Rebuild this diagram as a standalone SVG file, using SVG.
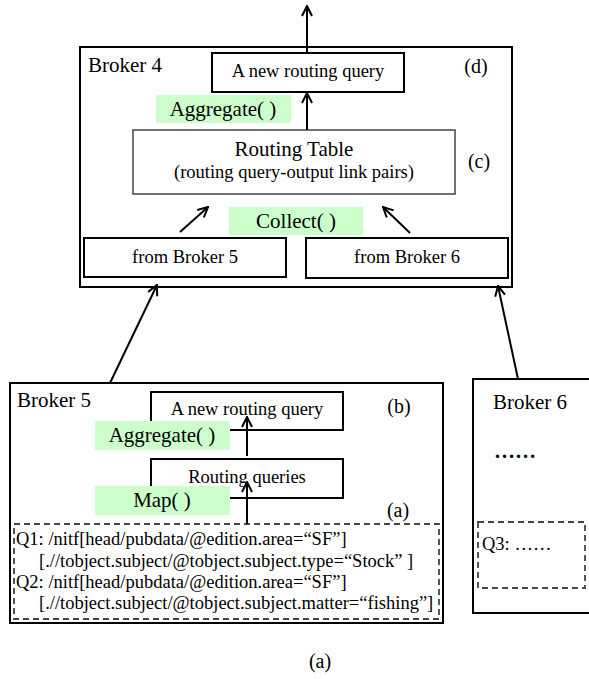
<svg xmlns="http://www.w3.org/2000/svg" width="589" height="679" viewBox="0 0 589 679">
<style>
text{font-family:"Liberation Serif","Times New Roman",serif;fill:#000}
.box{fill:#fff;stroke:#000;stroke-width:2}
.thin{fill:#fff;stroke:#444;stroke-width:1.5}
.dash{fill:none;stroke:#444;stroke-width:1.8;stroke-dasharray:6 4}
.green{fill:#ccffcc;stroke:none}
.big{font-size:21px}
.mid{font-size:18.5px}
.lab{font-size:20px}
.c{text-anchor:middle}
.conn{stroke:#000;stroke-width:2;fill:none;marker-end:url(#ah)}
</style>
<defs>
<marker id="ah" viewBox="0 0 12 12" refX="11" refY="6" markerWidth="12" markerHeight="12" markerUnits="userSpaceOnUse" orient="auto">
<path d="M1,1 L11,6 L1,11" fill="none" stroke="#000" stroke-width="2"/>
</marker>
</defs>
<rect width="589" height="679" fill="#fff"/>

<g id="broker4">
<rect class="box" x="80" y="47" width="432" height="240"/>
<text class="big" x="88" y="72">Broker 4</text>
<text class="lab c" x="476" y="73">(d)</text>
<text class="lab c" x="479" y="168">(c)</text>
</g>
<g id="newquery4">
<rect class="box" x="212" y="53" width="192" height="39"/>
<text class="mid c" x="308" y="77">A new routing query</text>
</g>
<g id="aggregate4">
<rect class="green" x="156" y="95" width="135" height="28"/>
<text class="big c" x="223" y="116">Aggregate( )</text>
</g>
<g id="routingtable">
<rect class="thin" x="133" y="130" width="322" height="64"/>
<text class="big c" x="294" y="156">Routing Table</text>
<text class="mid c" x="294" y="178">(routing query-output link pairs)</text>
</g>
<g id="collect">
<rect class="green" x="229" y="207" width="134" height="28"/>
<text class="big c" x="296" y="228">Collect( )</text>
</g>
<g id="from5">
<rect class="box" x="84" y="238" width="202" height="39"/>
<text class="mid c" x="185" y="263">from Broker 5</text>
</g>
<g id="from6">
<rect class="box" x="306" y="238" width="202" height="40"/>
<text class="mid c" x="407" y="263">from Broker 6</text>
</g>

<g id="broker5">
<rect class="box" x="10" y="383" width="433" height="240"/>
<text class="big" x="17" y="407">Broker 5</text>
<text class="lab c" x="399" y="413">(b)</text>
<text class="lab c" x="398" y="517">(a)</text>
</g>
<g id="newquery5">
<rect class="box" x="151" y="392" width="192" height="38"/>
<text class="mid c" x="247" y="415">A new routing query</text>
</g>
<g id="aggregate5">
<rect class="green" x="95" y="421" width="135" height="29"/>
<text class="big c" x="162" y="442">Aggregate( )</text>
</g>
<g id="routingqueries">
<rect class="box" x="151" y="459" width="192" height="39"/>
<text class="mid c" x="247" y="483">Routing queries</text>
</g>
<g id="map">
<rect class="green" x="95" y="486" width="135" height="29"/>
<text class="big c" x="162" y="507">Map( )</text>
</g>
<g id="queries5">
<rect class="dash" x="14" y="524" width="425" height="95"/>
<text class="mid" x="16" y="545">Q1: /nitf[head/pubdata/@edition.area=“SF”]</text>
<text class="mid" x="39" y="567">[.//tobject.subject/@tobject.subject.type=“Stock” ]</text>
<text class="mid" x="16" y="588">Q2: /nitf[head/pubdata/@edition.area=“SF”]</text>
<text class="mid" x="39" y="609">[.//tobject.subject/@tobject.subject.matter=“fishing”]</text>
</g>

<g id="broker6">
<rect class="box" x="473" y="379" width="130" height="234"/>
<text class="big" x="493" y="409">Broker 6</text>
<text class="big" x="494" y="458" font-weight="bold">……</text>
</g>
<g id="queries6">
<rect class="dash" x="478" y="522" width="107" height="66"/>
<text class="mid" x="482" y="550">Q3: ……</text>
</g>

<text id="caption" class="lab c" x="320" y="668">(a)</text>

<g id="connectors">
<line class="conn" x1="307" y1="53" x2="307" y2="6"/>
<line class="conn" x1="307" y1="130" x2="307" y2="93"/>
<line class="conn" x1="180" y1="232" x2="208" y2="207"/>
<line class="conn" x1="410" y1="233" x2="383" y2="207"/>
<line class="conn" x1="110" y1="383" x2="157" y2="285"/>
<line class="conn" x1="518" y1="379" x2="498" y2="286"/>
<line class="conn" x1="247" y1="456" x2="247" y2="417"/>
<line class="conn" x1="247" y1="524" x2="247" y2="482"/>
</g>
</svg>
